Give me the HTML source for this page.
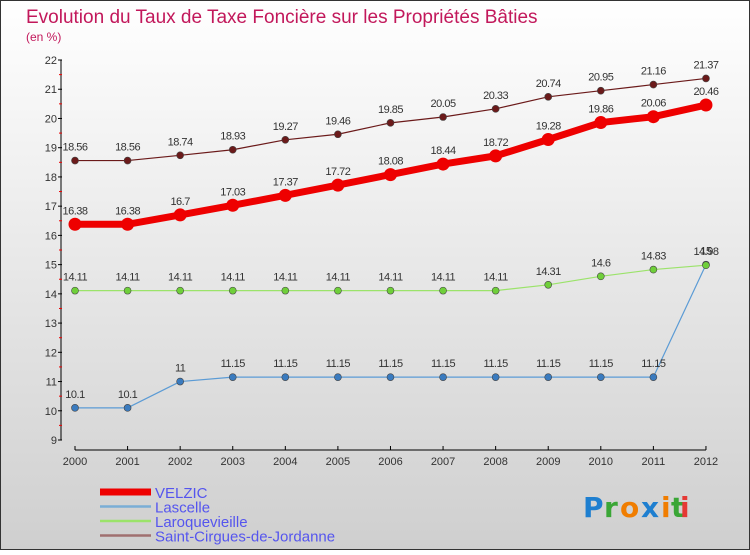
<!DOCTYPE html>
<html><head><meta charset="utf-8"><style>
body{margin:0}
#c{width:750px;height:550px;position:relative;font-family:"Liberation Sans",sans-serif}
</style></head><body>
<div id="c">
<svg width="750" height="550" xmlns="http://www.w3.org/2000/svg">
<defs><linearGradient id="bg" x1="0" y1="0" x2="0" y2="1"><stop offset="0" stop-color="#ffffff"/><stop offset="1" stop-color="#cfcfcf"/></linearGradient></defs>
<rect x="0.5" y="0.5" width="749" height="549" fill="url(#bg)" stroke="#333"/>
<text x="26" y="23" font-size="19" fill="#c2185b" font-weight="300">Evolution du Taux de Taxe Foncière sur les Propriétés Bâties</text>
<text x="26" y="41" font-size="12" fill="#c2185b">(en %)</text>
<g id="axes"></g>
<g id="series"></g>
<g id="legend" font-size="15" fill="#5555ee"></g>
<g font-size="28" font-weight="bold" font-family="'DejaVu Sans',sans-serif">
<text x="583" y="517" fill="#1e7fd0">P</text><text x="604" y="517" fill="#3aa636">r</text><text x="620" y="517" fill="#f07d00">o</text><text x="641" y="517" fill="#1e7fd0">x</text><text x="661" y="517" fill="#f07d00">i</text><text x="671" y="517" fill="#3aa636">t</text><text x="680" y="517" fill="#e53935">i</text>
</g>
</svg>
</div>
<script>
const years=[2000,2001,2002,2003,2004,2005,2006,2007,2008,2009,2010,2011,2012];
const yTicks=[9,10,11,12,13,14,15,16,17,18,19,20,21,22];
const velzic=[16.38,16.38,16.7,17.03,17.37,17.72,18.08,18.44,18.72,19.28,19.86,20.06,20.46];
const lascelle=[10.1,10.1,11,11.15,11.15,11.15,11.15,11.15,11.15,11.15,11.15,11.15,15];
const laroque=[14.11,14.11,14.11,14.11,14.11,14.11,14.11,14.11,14.11,14.31,14.6,14.83,14.98];
const saint=[18.56,18.56,18.74,18.93,19.27,19.46,19.85,20.05,20.33,20.74,20.95,21.16,21.37];
const names=["VELZIC","Lascelle","Laroquevieille","Saint-Cirgues-de-Jordanne"];
const NS="http://www.w3.org/2000/svg";
const X=i=>75+i*52.58;
const Y=v=>440-(v-9)*29.23;
function mk(t,a,p){const e=document.createElementNS(NS,t);for(const k in a)e.setAttribute(k,a[k]);p.appendChild(e);return e;}
const ax=document.getElementById('axes');
let yl=mk('line',{x1:61,y1:Y(22),x2:61,y2:Y(9),stroke:'#000'},ax);


yTicks.forEach(v=>{
  mk('line',{x1:58,x2:62,y1:Y(v),y2:Y(v),stroke:'#000'},ax);
  if(v<22)mk('line',{x1:59,x2:62,y1:Y(v+0.5),y2:Y(v+0.5),stroke:'#e00'},ax);
  const t=mk('text',{x:57,y:Y(v)+4,'text-anchor':'end','font-size':11,fill:'#333'},ax);t.textContent=v;
  
  
});
let xl=mk('line',{x1:X(0),y1:450,x2:X(12),y2:450,stroke:'#000'},ax);


years.forEach((y,i)=>{
  mk('line',{x1:X(i),x2:X(i),y1:446,y2:450,stroke:'#000'},ax);
  const t=mk('text',{x:X(i),y:465,'text-anchor':'middle','font-size':11,fill:'#333'},ax);t.textContent=y;
  
  
});
const sg=document.getElementById('series');
const specs=[[saint,'#6b1a1a','#6b1a1a',1.2,3.5,'saint-cirgues'],[lascelle,'#5b9bd5','#3a7bbf',1.2,3.5,'lascelle'],[laroque,'#9be36a','#6fcf3a',1.2,3.5,'laroquevieille'],[velzic,'#ee0000','#ee0000',7,6.5,'velzic']];
specs.forEach(([d,c,mc,w,r,n])=>{
  const g=mk('g',{},sg);
  
  
  const p=mk('polyline',{points:d.map((v,i)=>X(i)+','+Y(v)).join(' '),fill:'none',stroke:c,'stroke-width':w,'stroke-linejoin':'round'},g);
  
  
  d.forEach((v,i)=>{
    const m=mk('circle',{cx:X(i),cy:Y(v),r:r,fill:mc,stroke:n=='velzic'?'none':'#444','stroke-width':0.6},g);
    
    
    const t=mk('text',{x:X(i),y:Y(v)-10,'text-anchor':'middle','font-size':11,fill:'#333','letter-spacing':'-0.5'},g);t.textContent=v;
    
    
  });
});
const lg=document.getElementById('legend');
const lc=['#ee0000','#7aaed6','#9be36a','#a07070'],lw=[7,2.5,2.5,2.5];
names.forEach((n,i)=>{
  const y=492+i*14.5;
  const g=mk('g',{},lg);
  
  
  mk('line',{x1:100,x2:151,y1:y,y2:y,stroke:lc[i],'stroke-width':lw[i]},g);
  const t=mk('text',{x:155,y:y+6},g);t.textContent=n;
});
</script>
</body></html>
